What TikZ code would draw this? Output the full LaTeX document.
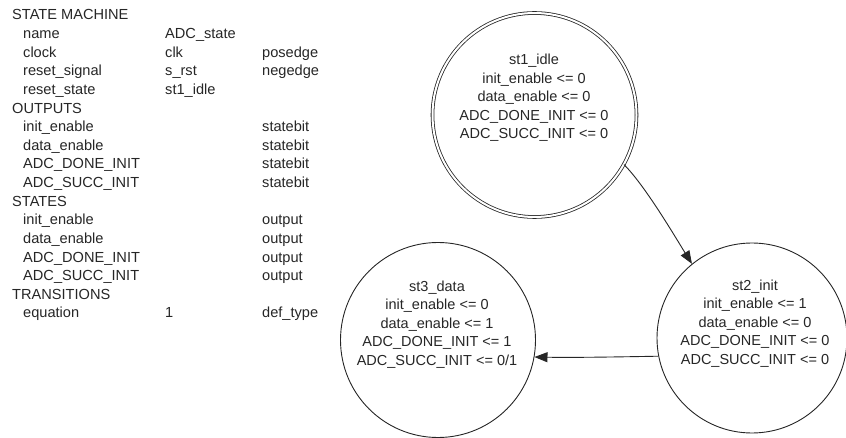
\documentclass[tikz,border=0pt]{standalone}
\usepackage{fontspec}
\setmainfont{Liberation Sans}
\usetikzlibrary{arrows.meta}
\begin{document}
\begin{tikzpicture}[x=1pt,y=-1pt,
  txt/.style={font=\fontsize{14.6}{18.5}\selectfont, text=black!85, inner sep=0pt, anchor=base west},
  statecirc/.style={circle, draw=black!85, line width=0.9pt, inner sep=0pt},
  statetxt/.style={font=\fontsize{14.5}{18.5}\selectfont, text=black!85, align=center, inner sep=0pt},
  trans/.style={draw=black!85, line width=0.9pt, -{Triangle[length=13pt,width=10pt]}}]
\useasboundingbox (0,0) rectangle (846,438);

% ---- textual description of the state machine ----
\def\rowh{18.625}
\node[txt] (h1) at (12,20) {STATE MACHINE};
\node[txt] (r1a) at (23,{20+1*\rowh}) {name};
\node[txt] (r1b) at (165,{20+1*\rowh}) {ADC\_state};
\node[txt] (r2a) at (23,{20+2*\rowh}) {clock};
\node[txt] (r2b) at (165,{20+2*\rowh}) {clk};
\node[txt] (r2c) at (262,{20+2*\rowh}) {posedge};
\node[txt] (r3a) at (23,{20+3*\rowh}) {reset\_signal};
\node[txt] (r3b) at (165,{20+3*\rowh}) {s\_rst};
\node[txt] (r3c) at (262,{20+3*\rowh}) {negedge};
\node[txt] (r4a) at (23,{20+4*\rowh}) {reset\_state};
\node[txt] (r4b) at (165,{20+4*\rowh}) {st1\_idle};
\node[txt] (h2) at (12,{20+5*\rowh}) {OUTPUTS};
\node[txt] (o1a) at (23,{20+6*\rowh}) {init\_enable};
\node[txt] (o1c) at (262,{20+6*\rowh}) {statebit};
\node[txt] (o2a) at (23,{20+7*\rowh}) {data\_enable};
\node[txt] (o2c) at (262,{20+7*\rowh}) {statebit};
\node[txt] (o3a) at (23,{20+8*\rowh}) {ADC\_DONE\_INIT};
\node[txt] (o3c) at (262,{20+8*\rowh}) {statebit};
\node[txt] (o4a) at (23,{20+9*\rowh}) {ADC\_SUCC\_INIT};
\node[txt] (o4c) at (262,{20+9*\rowh}) {statebit};
\node[txt] (h3) at (12,{20+10*\rowh}) {STATES};
\node[txt] (s1a) at (23,{20+11*\rowh}) {init\_enable};
\node[txt] (s1c) at (262,{20+11*\rowh}) {output};
\node[txt] (s2a) at (23,{20+12*\rowh}) {data\_enable};
\node[txt] (s2c) at (262,{20+12*\rowh}) {output};
\node[txt] (s3a) at (23,{20+13*\rowh}) {ADC\_DONE\_INIT};
\node[txt] (s3c) at (262,{20+13*\rowh}) {output};
\node[txt] (s4a) at (23,{20+14*\rowh}) {ADC\_SUCC\_INIT};
\node[txt] (s4c) at (262,{20+14*\rowh}) {output};
\node[txt] (h4) at (12,{20+15*\rowh}) {TRANSITIONS};
\node[txt] (e1a) at (23,{20+16*\rowh}) {equation};
\node[txt] (e1b) at (165,{20+16*\rowh}) {1};
\node[txt] (e1c) at (262,{20+16*\rowh}) {def\_type};

% ---- state bubbles ----
\node[statecirc, minimum size=204pt, double, double distance=2pt, line width=0.8pt] (idle) at (534.5,115) {};
\node[statecirc, minimum size=190pt] (init) at (752,338) {};
\node[statecirc, minimum size=195pt] (data) at (438,340) {};

\node[statetxt] (idletxt) at (534,98) {st1\_idle\\init\_enable <= 0\\data\_enable <= 0\\ADC\_DONE\_INIT <= 0\\ADC\_SUCC\_INIT <= 0};
\node[statetxt] (inittxt) at (755,323.5) {st2\_init\\init\_enable <= 1\\data\_enable <= 0\\ADC\_DONE\_INIT <= 0\\ADC\_SUCC\_INIT <= 0};
\node[statetxt] (datatxt) at (437,324.5) {st3\_data\\init\_enable <= 0\\data\_enable <= 1\\ADC\_DONE\_INIT <= 1\\ADC\_SUCC\_INIT <= 0/1};

% ---- transitions ----
\draw[trans] (idle.-29) .. controls +(-45:30pt) and +(122:30pt) .. (init.129);
\draw[trans] (init.191) .. controls +(181:40pt) and +(-1:40pt) .. (data.-10);
\end{tikzpicture}
\end{document}
